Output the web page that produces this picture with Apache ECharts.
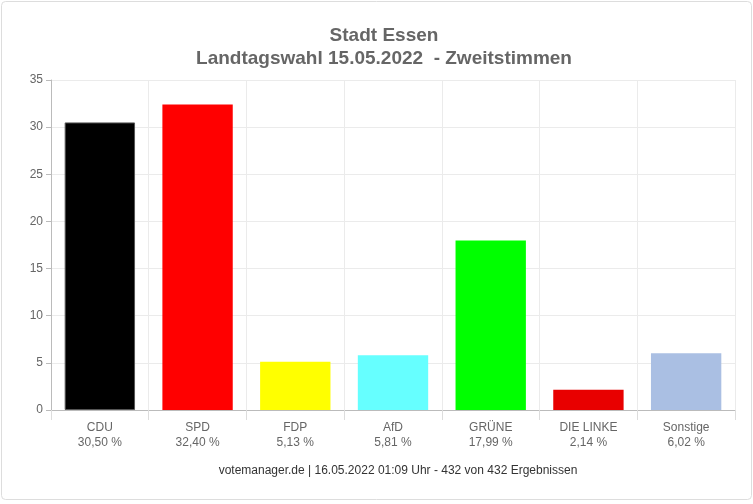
<!DOCTYPE html>
<html><head><meta charset="utf-8">
<script src="https://cdn.jsdelivr.net/npm/echarts@6/dist/echarts.min.js"></script>
<style>html,body{margin:0;padding:0;background:#fff}#c{width:753px;height:504px}</style>
</head><body><div id="c"></div>
<script>
const categories = ["CDU","SPD","FDP","AfD","GRÜNE","DIE LINKE","Sonstige"];
const values = [30.50, 32.40, 5.13, 5.81, 17.99, 2.14, 6.02];
const colors = ["#000000","#ff0000","#ffff00","#66ffff","#00ff00","#e80000","#aabfe3"];
const yTicks = {min:0, max:35, interval:5};
const titleLines = ["Stadt Essen","Landtagswahl 15.05.2022  - Zweitstimmen"];
const footer = "votemanager.de | 16.05.2022 01:09 Uhr - 432 von 432 Ergebnissen";

const fmt = v => v.toFixed(2).replace('.', ',') + ' %';
const FF = 'Liberation Sans, Arial, sans-serif';
const chart = echarts.init(document.getElementById('c'), null, {renderer:'canvas'});
chart.setOption({
  backgroundColor:'#fff',
  animation:false,
  textStyle:{fontFamily:FF},
  title:[{
    text: titleLines.join('\n'),
    left: 379, top: 19, textAlign:'center',
    textStyle:{fontSize:19, fontWeight:'bold', color:'#666', lineHeight:23, fontFamily:FF}
  },{
    text: footer, left: 393, top: 460, textAlign:'center',
    textStyle:{fontSize:12, fontWeight:'normal', color:'#333', fontFamily:FF}
  }],
  graphic:[{type:'rect', shape:{x:1.5,y:1.5,width:750,height:498,r:4}, style:{fill:null, stroke:'#ddd', lineWidth:1}, z:-1}],
  grid:{left:51, right:18, top:80, bottom:94, containLabel:false},
  xAxis:{
    type:'category', data:categories,
    axisLine:{lineStyle:{color:'#bbb'}},
    axisTick:{show:true, length:10, lineStyle:{color:'#ddd'}},
    splitLine:{show:true, lineStyle:{color:'#ebebeb'}},
    axisLabel:{
      margin:10, color:'#666', fontSize:12, lineHeight:15,
      formatter:(v, i) => v + '\n' + fmt(values[i])
    }
  },
  yAxis:{
    type:'value', min:yTicks.min, max:yTicks.max, interval:yTicks.interval,
    axisLine:{show:true, lineStyle:{color:'#bbb'}},
    axisTick:{show:true, length:5, lineStyle:{color:'#bbb'}},
    splitLine:{lineStyle:{color:'#ebebeb'}},
    axisLabel:{color:'#666', fontSize:12, margin:8}
  },
  series:[{
    type:'bar', barCategoryGap:'28%',
    data: values.map((v,i)=>({value:v, itemStyle:{color:colors[i], borderColor: i===0?'#555':colors[i], borderWidth: i===0?1:0}})),
  }]
});
</script></body></html>
